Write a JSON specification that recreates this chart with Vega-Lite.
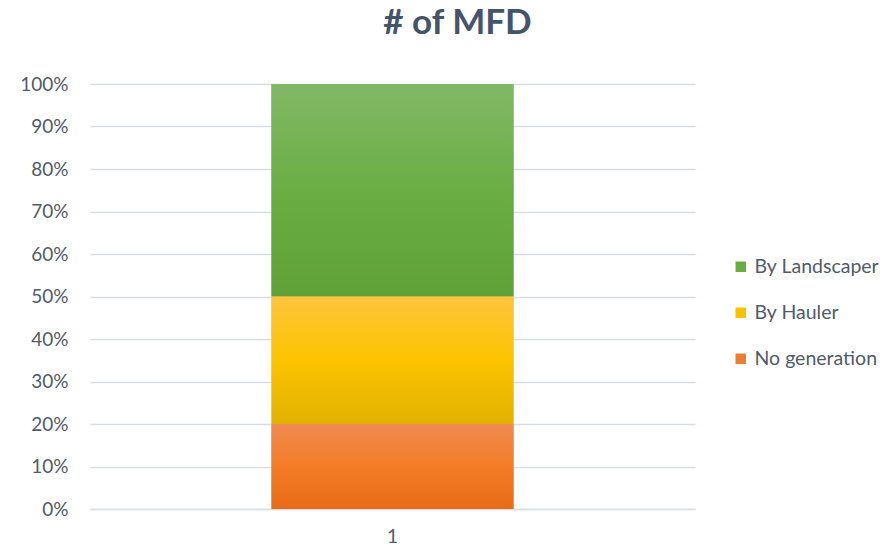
{
  "$schema": "https://vega.github.io/schema/vega-lite/v6.json",
  "width": 605,
  "height": 425,
  "autosize": {"type": "none"},
  "padding": {"left": 90, "top": 84, "right": 201, "bottom": 38},
  "background": "white",
  "config": {
    "view": {"stroke": null},
    "font": "Lato"
  },
  "title": {
    "text": "# of MFD",
    "fontSize": 35,
    "fontWeight": "bold",
    "color": "#44546a",
    "font": "Lato",
    "anchor": "middle",
    "dx": 65,
    "offset": 34
  },
  "data": {
    "values": [
      {"cat": "1", "series": "No generation", "value": 20, "ord": 1},
      {"cat": "1", "series": "By Hauler", "value": 30, "ord": 2},
      {"cat": "1", "series": "By Landscaper", "value": 50, "ord": 3}
    ]
  },
  "transform": [
    {"stack": "value", "groupby": ["cat"], "sort": [{"field": "ord", "order": "ascending"}], "as": ["v0", "v1"]}
  ],
  "encoding": {
    "x": {
      "field": "cat",
      "type": "nominal",
      "axis": {
        "title": null,
        "labelAngle": 0,
        "labelFontSize": 19,
        "labelColor": "#4f5b6b",
        "labelPadding": 18,
        "ticks": false,
        "domainColor": "#d9dde3",
        "domainWidth": 1.5
      }
    },
    "y": {
      "field": "v1",
      "type": "quantitative",
      "scale": {"domain": [0, 100]},
      "axis": {
        "title": null,
        "values": [0, 10, 20, 30, 40, 50, 60, 70, 80, 90, 100],
        "labelExpr": "datum.value + '%'",
        "labelOverlap": false,
        "labelFontSize": 19,
        "labelColor": "#4f5b6b",
        "labelPadding": 22,
        "ticks": false,
        "domain": false,
        "gridColor": "#d9dde3",
        "gridWidth": 1.5
      }
    },
    "y2": {"field": "v0"}
  },
  "layer": [
    {
      "mark": {"type": "bar", "size": 242},
      "encoding": {
        "color": {
          "field": "series",
          "type": "nominal",
          "scale": {
            "domain": ["By Landscaper", "By Hauler", "No generation"],
            "range": ["#6aad44", "#ffc000", "#ed7d31"]
          },
          "legend": {
            "title": null,
            "orient": "none",
            "legendX": 641,
            "legendY": 173,
            "symbolType": "square",
            "symbolSize": 110,
            "symbolStrokeWidth": 0,
            "labelFontSize": 19.5,
            "labelColor": "#4f5b6b",
            "labelOffset": 4,
            "rowPadding": 25
          }
        }
      }
    },
    {
      "transform": [{"filter": "datum.series === 'By Landscaper'"}],
      "mark": {
        "type": "bar",
        "size": 242,
        "fill": {
          "gradient": "linear", "x1": 0, "y1": 0, "x2": 0, "y2": 1,
          "stops": [
            {"offset": 0, "color": "#82b866"},
            {"offset": 0.5, "color": "#6aae43"},
            {"offset": 1, "color": "#5fa137"}
          ]
        }
      }
    },
    {
      "transform": [{"filter": "datum.series === 'By Hauler'"}],
      "mark": {
        "type": "bar",
        "size": 242,
        "fill": {
          "gradient": "linear", "x1": 0, "y1": 0, "x2": 0, "y2": 1,
          "stops": [
            {"offset": 0, "color": "#fec43c"},
            {"offset": 0.5, "color": "#fcc400"},
            {"offset": 1, "color": "#e2b100"}
          ]
        }
      }
    },
    {
      "transform": [{"filter": "datum.series === 'No generation'"}],
      "mark": {
        "type": "bar",
        "size": 242,
        "fill": {
          "gradient": "linear", "x1": 0, "y1": 0, "x2": 0, "y2": 1,
          "stops": [
            {"offset": 0, "color": "#f08a52"},
            {"offset": 0.5, "color": "#f47c26"},
            {"offset": 1, "color": "#e86b18"}
          ]
        }
      }
    }
  ]
}
